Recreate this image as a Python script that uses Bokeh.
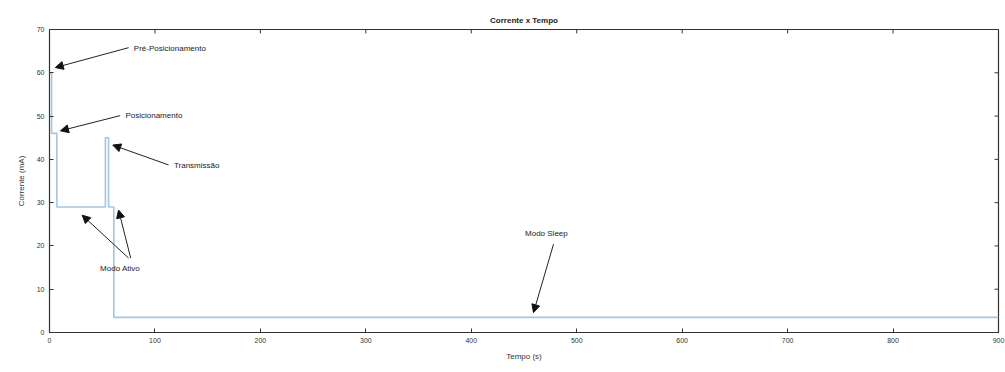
from bokeh.plotting import figure
from bokeh.models import Arrow, NormalHead, Label, Range1d, FixedTicker
from bokeh.embed import file_html
from bokeh.resources import INLINE

# Data (step profile of current vs time)
time_s = [0, 2, 2, 7, 7, 53, 53, 56, 56, 61, 61, 900]
current_ma = [60, 60, 46, 46, 29, 29, 45, 45, 29, 29, 3.5, 3.5]

x_ticks = [0, 100, 200, 300, 400, 500, 600, 700, 800, 900]
y_ticks = [0, 10, 20, 30, 40, 50, 60, 70]

# Annotations: text, text position, arrow start, arrow end (data units)
ann_text = ["Pré-Posicionamento", "Posicionamento", "Transmissão", "Modo Ativo", "Modo Sleep"]
ann_tx = [80, 72, 118, 48, 451]
ann_ty = [65.6, 50.2, 38.5, 14.8, 22.8]
arr_x0 = [75, 67, 113, 75, 77, 478]
arr_y0 = [65.8, 50.1, 38.7, 17.2, 17.2, 20.4]
arr_x1 = [5.5, 10.4, 60, 31, 65.5, 459]
arr_y1 = [61.2, 46.6, 43.3, 27.1, 28.3, 4.6]

FONT = "Liberation Sans"
AX = "#333333"

p = figure(width=1005, height=372, output_backend="svg", toolbar_location=None,
           x_range=Range1d(0, 900), y_range=Range1d(0, 70),
           min_border_left=49, min_border_right=7, min_border_top=29, min_border_bottom=40,
           title="Corrente x Tempo")
p.title.align = "center"
p.title.text_font = FONT
p.title.text_font_size = "8px"
p.title.text_font_style = "bold"
p.title.text_color = "#222222"
p.title.offset = 0

p.line(time_s, current_ma, line_color="#a3c6e2", line_width=1.6)

p.xgrid.visible = False
p.ygrid.visible = False
p.outline_line_color = AX
p.outline_line_width = 1.2

for ax, ticks in ((p.xaxis[0], x_ticks), (p.yaxis[0], y_ticks)):
    ax.ticker = FixedTicker(ticks=ticks)
    ax.major_tick_in = 4
    ax.major_tick_out = 0
    ax.minor_tick_line_color = None
    ax.axis_line_color = AX
    ax.major_tick_line_color = AX
    ax.major_label_text_font = FONT
    ax.major_label_text_font_size = "7px"
    ax.major_label_text_color = "#333333"
    ax.axis_label_text_font = FONT
    ax.axis_label_text_font_size = "8px"
    ax.axis_label_text_font_style = "normal"
    ax.axis_label_text_color = "#333333"
p.xaxis.axis_label = "Tempo (s)"
p.yaxis.axis_label = "Corrente (mA)"
p.xaxis.major_label_standoff = 5
p.yaxis.major_label_standoff = 5
p.xaxis.axis_label_standoff = 6
p.yaxis.axis_label_standoff = 8

# Tick marks on the top and right edges of the box (inward)
y_top = 70
x_right = 900
tick_dy = 0.9   # ~4px
tick_dx = 3.8   # ~4px
p.segment(x0=x_ticks, y0=[y_top] * len(x_ticks), x1=x_ticks, y1=[y_top - tick_dy] * len(x_ticks),
          line_color=AX, line_width=1)
p.segment(x0=[x_right] * len(y_ticks), y0=y_ticks, x1=[x_right - tick_dx] * len(y_ticks), y1=y_ticks,
          line_color=AX, line_width=1)

for i in range(len(arr_x0)):
    p.add_layout(Arrow(end=NormalHead(size=8, fill_color="#111111", line_color="#111111"),
                       x_start=arr_x0[i], y_start=arr_y0[i], x_end=arr_x1[i], y_end=arr_y1[i],
                       line_color="#222222", line_width=1))

for t, x, y in zip(ann_text, ann_tx, ann_ty):
    p.add_layout(Label(x=x, y=y, text=t, text_font=FONT, text_font_size="8px",
                       text_baseline="middle", text_align="left", text_color="#222222"))

open("out.html", "w").write(file_html(p, INLINE))
